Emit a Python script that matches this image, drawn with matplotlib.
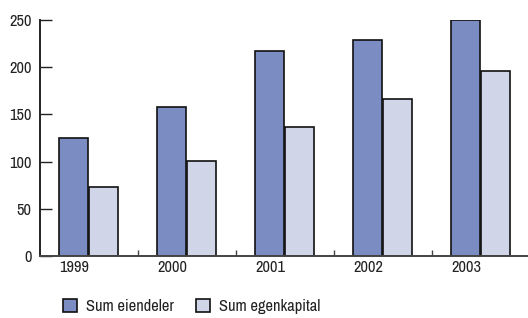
import matplotlib
matplotlib.use("Agg")
import matplotlib.pyplot as plt
from matplotlib.patches import Patch
import numpy as np

years = ["1999", "2000", "2001", "2002", "2003"]
sum_eiendeler = [125, 158, 217, 229, 250]
sum_egenkapital = [73, 101, 137, 166, 196]
series_names = ["Sum eiendeler", "Sum egenkapital"]

plt.rcParams['font.family'] = ['Archivo Narrow', 'DejaVu Sans']
plt.rcParams['text.color'] = '#222222'
plt.rcParams['xtick.labelcolor'] = '#222222'
plt.rcParams['ytick.labelcolor'] = '#222222'

fig = plt.figure(figsize=(5.28, 3.18), dpi=100)
ax = fig.add_axes([40/528, 62/318, 1 - 40/528, (256-20)/318])

c1 = "#7b8cc2"
c2 = "#d0d5e8"
x = np.arange(len(years))
w = 0.3
ax.bar(x - 0.156, sum_eiendeler, width=w, color=c1, edgecolor="#111111", linewidth=1.2, align="center")
ax.bar(x + 0.145, sum_egenkapital, width=w, color=c2, edgecolor="#111111", linewidth=1.2, align="center")

fs = 11.8
ax.set_xlim(-0.5, 4.5 - 2/98)
ax.set_ylim(0, 250)
ax.set_yticks([0, 50, 100, 150, 200, 250])
ax.tick_params(axis="y", direction="in", length=8.6, width=1, color="#222222", labelsize=fs, pad=6)
ax.set_xticks(x - 0.15)
ax.set_xticklabels(years)
ax.tick_params(axis="x", which="major", length=0, labelsize=fs, pad=3)
ax.set_xticks(x[:-1] + 0.5, minor=True)
ax.tick_params(axis="x", which="minor", direction="in", length=4.3, width=1, color="#444444")

for s in ["top", "right"]:
    ax.spines[s].set_visible(False)
ax.spines["left"].set_color("#222222")
ax.spines["left"].set_linewidth(1.4)
ax.spines["bottom"].set_color("#444444")
ax.spines["bottom"].set_linewidth(1.4)

handles = [Patch(facecolor=c1, edgecolor="#111111", linewidth=1.2),
           Patch(facecolor=c2, edgecolor="#111111", linewidth=1.2)]
fig.legend(handles, series_names, loc="center left", bbox_to_anchor=(63/528, 0.035),
           ncol=2, frameon=False, fontsize=fs, handlelength=0.85, handleheight=0.85,
           handletextpad=0.55, columnspacing=1.35, borderpad=0, borderaxespad=0)

fig.savefig("out.png", dpi=100)
